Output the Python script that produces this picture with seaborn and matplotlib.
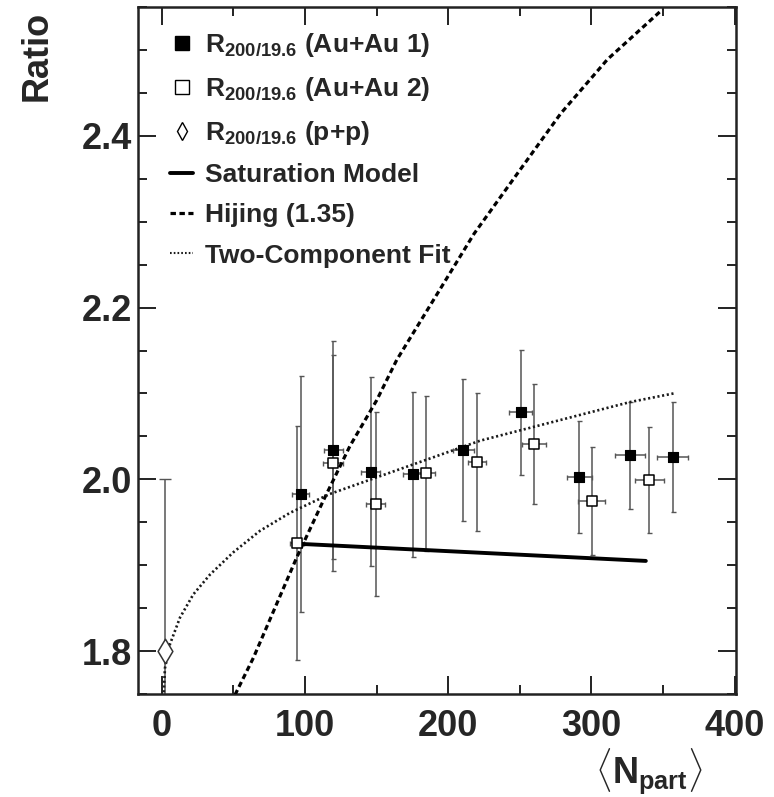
import matplotlib
matplotlib.use("Agg")
import matplotlib.pyplot as plt
import seaborn as sns
from matplotlib.lines import Line2D
from matplotlib.ticker import MultipleLocator, FormatStrFormatter
from matplotlib import font_manager

# Au+Au, first data set
npart_au1 = [97.1, 119.8, 145.9, 175.5, 210.6, 250.7, 291.6, 327.0, 356.8]
ratio_au1 = [1.983, 2.034, 2.009, 2.006, 2.034, 2.078, 2.003, 2.028, 2.026]
yerr_au1 = [0.137, 0.127, 0.110, 0.096, 0.083, 0.073, 0.065, 0.062, 0.064]
xerr_au1 = [6.0, 6.5, 6.5, 7.0, 7.5, 8.0, 8.7, 10.5, 10.8]

# Au+Au, second data set
npart_au2 = [94.3, 119.8, 149.4, 184.6, 220.0, 260.0, 300.3, 340.5]
ratio_au2 = [1.926, 2.019, 1.971, 2.007, 2.020, 2.041, 1.975, 1.999]
yerr_au2 = [0.136, 0.126, 0.107, 0.090, 0.080, 0.070, 0.063, 0.062]
xerr_au2 = [5.0, 7.0, 6.7, 6.0, 6.4, 8.5, 9.3, 10.1]

# p+p reference
npart_pp = [2.0]
ratio_pp = [1.80]
yerr_pp = [0.20]

# model curves
sat_npart = [95.0, 338.0]
sat_ratio = [1.925, 1.905]

hij_npart = [51.2, 64.0, 94.3, 112.8, 131.5, 150.1, 164.1, 218.1, 248.3, 278.6, 311.2, 349.5]
hij_ratio = [1.749, 1.792, 1.909, 1.975, 2.039, 2.092, 2.139, 2.286, 2.356, 2.426, 2.489, 2.547]

fit_npart = [1.5, 2.3, 5.8, 12.8, 22.1, 33.7, 50.0, 68.6, 89.6, 117.5, 222.3, 236.2, 327.0, 357.3]
fit_ratio = [1.752, 1.780, 1.808, 1.839, 1.866, 1.889, 1.915, 1.940, 1.961, 1.983, 2.045, 2.051, 2.090, 2.100]

legend_labels = [
    r"R$_{200/19.6}$ (Au+Au 1)",
    r"R$_{200/19.6}$ (Au+Au 2)",
    r"R$_{200/19.6}$ (p+p)",
    "Saturation Model",
    "Hijing (1.35)",
    "Two-Component Fit",
]

sns.set_style("ticks")

installed = {f.name for f in font_manager.fontManager.ttflist}
main_font = "Liberation Sans Narrow" if "Liberation Sans Narrow" in installed else "Liberation Sans"
plt.rcParams["font.family"] = [main_font, "DejaVu Sans"]
plt.rcParams["font.weight"] = "bold"
plt.rcParams["mathtext.fontset"] = "custom"
plt.rcParams["mathtext.rm"] = f"{main_font}:bold"
plt.rcParams["mathtext.it"] = f"{main_font}:bold"
plt.rcParams["mathtext.bf"] = f"{main_font}:bold"

fig = plt.figure(figsize=(7.74, 7.97), dpi=100)
ax = fig.add_axes([0.1783, 0.1292, 0.7727, 0.862])

bar_color = "#555555"
ax.errorbar(npart_au1, ratio_au1, yerr=yerr_au1, xerr=xerr_au1, fmt="none",
            ecolor=bar_color, elinewidth=1.1, capsize=1.8, capthick=1.0, zorder=2)
ax.errorbar(npart_au2, ratio_au2, yerr=yerr_au2, xerr=xerr_au2, fmt="none",
            ecolor=bar_color, elinewidth=1.1, capsize=1.8, capthick=1.0, zorder=2)
ax.errorbar(npart_pp, ratio_pp, yerr=yerr_pp, fmt="none",
            ecolor=bar_color, elinewidth=1.1, capsize=4, capthick=1.0, zorder=2)

sns.lineplot(x=sat_npart, y=sat_ratio, ax=ax, color="black", lw=2.8,
             sort=False, estimator=None, zorder=3)
sns.lineplot(x=hij_npart, y=hij_ratio, ax=ax, color="black", lw=2.3,
             sort=False, estimator=None, zorder=3)
ax.lines[-1].set_dashes((1.7, 1.1))
sns.lineplot(x=fit_npart, y=fit_ratio, ax=ax, color="#1a1a1a", lw=1.9,
             sort=False, estimator=None, zorder=3)
ax.lines[-1].set_dashes((0.8, 1.0))

sns.scatterplot(x=npart_au1, y=ratio_au1, ax=ax, marker="s", s=7.8 ** 2,
                color="black", edgecolor="black", linewidth=0.8, zorder=4)
sns.scatterplot(x=npart_au2, y=ratio_au2, ax=ax, marker="s", s=7.8 ** 2,
                color="white", edgecolor="black", linewidth=1.1, zorder=4)
sns.scatterplot(x=npart_pp, y=ratio_pp, ax=ax, marker="d", s=12.5 ** 2,
                color="white", edgecolor="#333333", linewidth=1.1, zorder=4)

ax.set_xlim(-16.5, 401)
ax.set_ylim(1.75, 2.55)
ax.xaxis.set_major_locator(MultipleLocator(100))
ax.xaxis.set_minor_locator(MultipleLocator(50))
ax.yaxis.set_major_locator(MultipleLocator(0.2))
ax.yaxis.set_minor_locator(MultipleLocator(0.05))
ax.yaxis.set_major_formatter(FormatStrFormatter("%.1f"))

ax.tick_params(which="both", direction="in", top=True, right=True,
               width=1.4, color="#222222", labelsize=26)
ax.tick_params(which="major", length=13)
ax.tick_params(which="minor", length=6.5)
ax.tick_params(axis="x", pad=11)
ax.tick_params(axis="y", pad=4)
for lab in ax.get_xticklabels() + ax.get_yticklabels():
    lab.set_fontweight("bold")
for sp in ax.spines.values():
    sp.set_linewidth(1.8)
    sp.set_color("#222222")

ax.set_xlabel(r"$\langle$N$_{\rm part}\rangle$", fontsize=26, fontweight="bold", loc="right")
ax.xaxis.set_label_coords(0.945, -0.076)
ax.set_ylabel("Ratio", fontsize=26, fontweight="bold", loc="top")
ax.yaxis.set_label_coords(-0.140, 0.995)

handles = [
    Line2D([], [], ls="none", marker="s", ms=9.4, mfc="black", mec="black"),
    Line2D([], [], ls="none", marker="s", ms=9.4, mfc="white", mec="black", mew=1.0),
    Line2D([], [], ls="none", marker="d", ms=9, mfc="white", mec="black", mew=1.0),
    Line2D([], [], color="black", lw=2.8),
    Line2D([], [], color="black", lw=2.3, dashes=(1.7, 1.1)),
    Line2D([], [], color="#1a1a1a", lw=1.5, dashes=(0.8, 1.0)),
]
leg = ax.legend(handles, legend_labels, loc="upper left", bbox_to_anchor=(0.053, 0.965),
                frameon=False, fontsize=19, handlelength=0.9, handletextpad=0.45,
                labelspacing=0.61, borderpad=0, borderaxespad=0)
for t in leg.get_texts():
    t.set_fontweight("bold")

fig.savefig("out.png", dpi=100)
